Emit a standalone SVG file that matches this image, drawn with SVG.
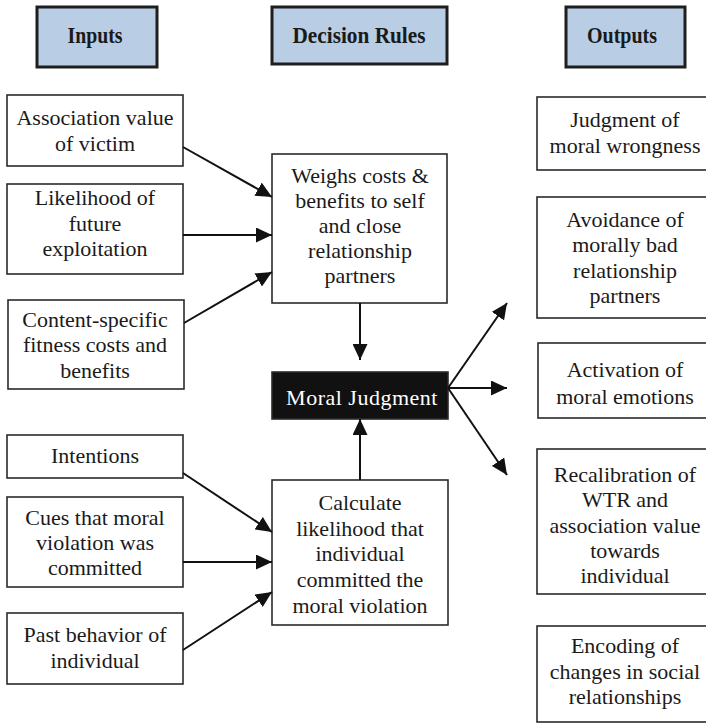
<svg xmlns="http://www.w3.org/2000/svg" width="706" height="724" viewBox="0 0 706 724">
<style>
.hdr{fill:#b9cde4;stroke:#1e1e1e;stroke-width:3}
.box{fill:#ffffff;stroke:#2a2a2a;stroke-width:1.6}
.blk{fill:#111111;stroke:#2a2a2a;stroke-width:1.6}
.ht{font-family:"Liberation Serif","Times New Roman",serif;font-weight:bold;font-size:23px;fill:#1a1a1a;text-anchor:middle}
.t{font-family:"Liberation Serif","Times New Roman",serif;font-size:22px;fill:#1a1a1a;text-anchor:middle}
.tw{font-family:"Liberation Serif","Times New Roman",serif;font-size:22px;fill:#ffffff;text-anchor:middle;letter-spacing:0.5px}
.c{stroke:#111111;stroke-width:2;fill:none;marker-end:url(#ah)}
</style>
<defs>
<marker id="ah" viewBox="0 0 16 15" refX="16" refY="7.5" markerWidth="16" markerHeight="15" markerUnits="userSpaceOnUse" orient="auto">
<path d="M0,0 L16,7.5 L0,15 z" fill="#111111"/>
</marker>
</defs>
<rect width="706" height="724" fill="#ffffff"/>

<g id="hdr-inputs"><rect class="hdr" x="37" y="7" width="120" height="60"/><text class="ht" x="95" y="43" textLength="55" lengthAdjust="spacingAndGlyphs">Inputs</text></g>
<g id="hdr-rules"><rect class="hdr" x="272" y="7" width="175" height="57"/><text class="ht" x="359" y="43" textLength="133" lengthAdjust="spacingAndGlyphs">Decision Rules</text></g>
<g id="hdr-outputs"><rect class="hdr" x="566" y="7" width="119" height="60"/><text class="ht" x="622" y="43" textLength="70" lengthAdjust="spacingAndGlyphs">Outputs</text></g>

<g id="in-association"><rect class="box" x="7" y="95" width="176" height="71"/><text class="t" x="95" y="125">Association value</text><text class="t" x="95" y="151">of victim</text></g>
<g id="in-likelihood"><rect class="box" x="7" y="184" width="176" height="90"/><text class="t" x="95" y="205">Likelihood of</text><text class="t" x="95" y="231">future</text><text class="t" x="95" y="256">exploitation</text></g>
<g id="in-content"><rect class="box" x="8" y="300" width="176" height="89"/><text class="t" x="95" y="327">Content-specific</text><text class="t" x="95" y="352">fitness costs and</text><text class="t" x="95" y="378">benefits</text></g>
<g id="in-intentions"><rect class="box" x="7" y="435" width="176" height="43"/><text class="t" x="95" y="463">Intentions</text></g>
<g id="in-cues"><rect class="box" x="7" y="497" width="176" height="90"/><text class="t" x="95" y="525">Cues that moral</text><text class="t" x="95" y="550">violation was</text><text class="t" x="95" y="575">committed</text></g>
<g id="in-past"><rect class="box" x="7" y="613" width="176" height="71"/><text class="t" x="95" y="642">Past behavior of</text><text class="t" x="95" y="668">individual</text></g>

<g id="rule-weighs"><rect class="box" x="272" y="154" width="175" height="149"/><text class="t" x="360" y="183">Weighs costs &amp;</text><text class="t" x="360" y="208">benefits to self</text><text class="t" x="360" y="233">and close</text><text class="t" x="360" y="258">relationship</text><text class="t" x="360" y="283">partners</text></g>
<g id="moral-judgment"><rect class="blk" x="272" y="372" width="176" height="47"/><text class="tw" x="362" y="405">Moral Judgment</text></g>
<g id="rule-calculate"><rect class="box" x="272" y="480" width="176" height="145"/><text class="t" x="360" y="510">Calculate</text><text class="t" x="360" y="536">likelihood that</text><text class="t" x="360" y="561">individual</text><text class="t" x="360" y="587">committed the</text><text class="t" x="360" y="613">moral violation</text></g>

<g id="out-judgment"><rect class="box" x="537" y="97" width="176" height="73"/><text class="t" x="625" y="127">Judgment of</text><text class="t" x="625" y="153">moral wrongness</text></g>
<g id="out-avoidance"><rect class="box" x="537" y="197" width="176" height="121"/><text class="t" x="625" y="227">Avoidance of</text><text class="t" x="625" y="252">morally bad</text><text class="t" x="625" y="278">relationship</text><text class="t" x="625" y="303">partners</text></g>
<g id="out-activation"><rect class="box" x="538" y="343" width="176" height="75"/><text class="t" x="625" y="377">Activation of</text><text class="t" x="625" y="404">moral emotions</text></g>
<g id="out-recalibration"><rect class="box" x="537" y="449" width="176" height="145"/><text class="t" x="625" y="482">Recalibration of</text><text class="t" x="625" y="507">WTR and</text><text class="t" x="625" y="533">association value</text><text class="t" x="625" y="558">towards</text><text class="t" x="625" y="583">individual</text></g>
<g id="out-encoding"><rect class="box" x="537" y="626" width="176" height="96"/><text class="t" x="625" y="653">Encoding of</text><text class="t" x="625" y="679">changes in social</text><text class="t" x="625" y="704">relationships</text></g>

<g id="connectors">
<line class="c" x1="183" y1="147" x2="272" y2="197"/>
<line class="c" x1="183" y1="235" x2="272" y2="235"/>
<line class="c" x1="184" y1="323" x2="272" y2="272"/>
<line class="c" x1="360" y1="303" x2="360" y2="360"/>
<line class="c" x1="183" y1="473" x2="272" y2="532"/>
<line class="c" x1="183" y1="562" x2="272" y2="562"/>
<line class="c" x1="183" y1="650" x2="272" y2="592"/>
<line class="c" x1="360" y1="480" x2="360" y2="419"/>
<line class="c" x1="448" y1="388" x2="507" y2="303"/>
<line class="c" x1="448" y1="388" x2="507" y2="388"/>
<line class="c" x1="448" y1="388" x2="507" y2="475"/>
</g>
</svg>
